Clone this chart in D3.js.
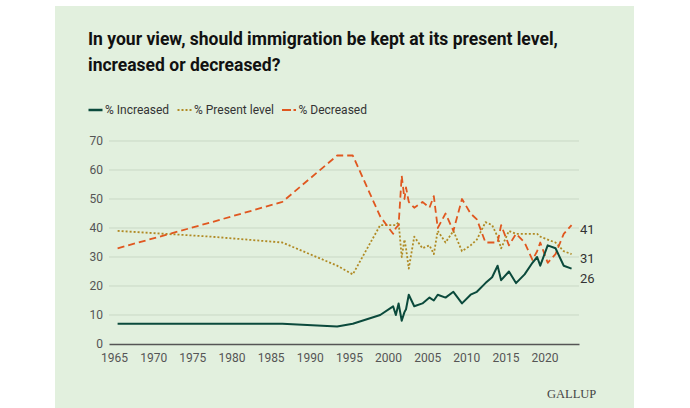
<!DOCTYPE html>
<html>
<head>
<meta charset="utf-8">
<script src="https://cdn.jsdelivr.net/npm/d3@7"></script>
<style>
  html, body { margin: 0; padding: 0; background: #ffffff; }
  svg { display: block; }
</style>
</head>
<body>
<svg id="chart" width="690" height="408"></svg>
<script>
// ---- Data ----
const dates = [1965.45, 1977.45, 1986.5, 1993.5, 1995.5, 1999.0, 2000.65, 2001.0, 2001.35, 2001.75,
  2002.1, 2002.3, 2002.65, 2003.35, 2004.4, 2005.3, 2005.85, 2006.35, 2007.35, 2008.35,
  2009.45, 2010.55, 2011.35, 2012.45, 2013.3, 2014.0, 2014.45, 2015.45, 2016.35, 2017.45,
  2018.45, 2019.05, 2019.45, 2020.4, 2021.4, 2022.45, 2023.45];
const increased = [7, 7, 7, 6, 7, 10, 13, 10, 14, 8,
  11, 12, 17, 13, 14, 16, 15, 17, 16, 18,
  14, 17, 18, 21, 23, 27, 22, 25, 21, 24,
  28, 30, 27, 34, 33, 27, 26];
const presentLevel = [39, 37, 35, 27, 24, 41, 41, 41, 42, 30,
  36, 33, 26, 37, 33, 34, 31, 39, 35, 39,
  32, 34, 36, 42, 41, 37, 33, 39, 38, 38,
  38, 38, 37, 36, 35, 32, 31];
const decreased = [33, 42, 49, 65, 65, 44, 38, 40, 41, 58,
  50, 54, 49, 47, 49, 47, 51, 40, 45, 39,
  50, 45, 43, 35, 35, 35, 41, 34, 38, 35,
  29, 32, 35, 28, 31, 38, 41];
const seriesNames = ["% Increased", "% Present level", "% Decreased"];
const xTicks = [1965, 1970, 1975, 1980, 1985, 1990, 1995, 2000, 2005, 2010, 2015, 2020];
const yTicks = [0, 10, 20, 30, 40, 50, 60, 70];
const titleLines = ["In your view, should immigration be kept at its present level,", "increased or decreased?"];

// ---- Styles ----
const colors = ["#0b4a3c", "#b08a24", "#e0571f"];
const dashes = [null, "2,2", "7,4"];
const svg = d3.select("#chart");
const W = 690, H = 408;

// Panel background
svg.append("rect").attr("x", 55).attr("y", 6).attr("width", 579).attr("height", H - 6).attr("fill", "#e2f0de");

// Title
svg.append("g").selectAll("text").data(titleLines).join("text")
  .attr("x", 88).attr("y", (d, i) => 45 + i * 25.5)
  .attr("font-family", "Roboto, 'Open Sans', sans-serif")
  .attr("font-weight", 700).attr("font-size", 17.5).attr("fill", "#111")
  .text(d => d);

// Scales
const x = d3.scaleLinear().domain([1964.35, 2024.4]).range([109, 579]);
const y = d3.scaleLinear().domain([0, 70]).range([344, 141]);

// Gridlines
svg.append("g").selectAll("line").data(yTicks.filter(t => t > 0)).join("line")
  .attr("x1", x.range()[0]).attr("x2", x.range()[1])
  .attr("y1", d => y(d)).attr("y2", d => y(d))
  .attr("stroke", "#c9d8c5").attr("stroke-width", 1);

// Y axis labels
const yAxis = d3.axisLeft(y).tickValues(yTicks).tickSize(0).tickPadding(6).tickFormat(d3.format("d"));
const gy = svg.append("g").attr("transform", `translate(${x.range()[0]},0)`).call(yAxis);
gy.select(".domain").remove();
gy.selectAll("text").attr("font-family", "Roboto, sans-serif").attr("font-size", 12).attr("fill", "#555");

// X axis
const xAxis = d3.axisBottom(x).tickValues(xTicks).tickSize(0).tickPadding(9).tickFormat(d3.format("d"));
const gx = svg.append("g").attr("transform", `translate(0,${y(0)})`).call(xAxis);
gx.select(".domain").attr("stroke", "#555").attr("stroke-width", 1.5);
gx.selectAll("text").attr("font-family", "Roboto, sans-serif").attr("font-size", 12).attr("fill", "#555");

// Lines
const allSeries = [increased, presentLevel, decreased];
const line = d3.line().x(d => x(d[0])).y(d => y(d[1])).curve(d3.curveLinear);
const order = [1, 2, 0];
order.forEach(k => {
  const pts = dates.map((dt, i) => [dt, allSeries[k][i]]);
  svg.append("path").datum(pts)
    .attr("d", line)
    .attr("fill", "none")
    .attr("stroke", colors[k])
    .attr("stroke-width", k === 0 ? 2 : 1.8)
    .attr("stroke-dasharray", dashes[k])
    .attr("stroke-linejoin", "round");
});

// End labels
const last = dates.length - 1;
const endLabels = allSeries.map((s, k) => ({ v: s[last], yy: y(s[last]) + 4 }))
  .sort((a, b) => a.yy - b.yy);
for (let i = 1; i < endLabels.length; i++) {
  if (endLabels[i].yy - endLabels[i - 1].yy < 20) endLabels[i].yy = endLabels[i - 1].yy + 20;
}
svg.append("g").selectAll("text").data(endLabels).join("text")
  .attr("x", 580).attr("y", d => d.yy).attr("dy", "0.35em")
  .attr("font-family", "Roboto, sans-serif").attr("font-size", 13).attr("fill", "#333")
  .text(d => d.v);

// Legend
const legendX = [88.5, 177.5, 282];
const legendY = 110;
const lg = svg.append("g");
seriesNames.forEach((name, k) => {
  lg.append("line").attr("x1", legendX[k]).attr("x2", legendX[k] + 14)
    .attr("y1", legendY).attr("y2", legendY)
    .attr("stroke", colors[k]).attr("stroke-width", k === 0 ? 2.5 : 2.2)
    .attr("stroke-dasharray", k === 2 ? "9,2.5" : dashes[k]);
  lg.append("text").attr("x", legendX[k] + 16.5).attr("y", legendY).attr("dy", "0.35em")
    .attr("font-family", "Roboto, sans-serif").attr("font-size", 12).attr("fill", "#333")
    .text(name);
});

// Source logo
svg.append("text").attr("x", 547).attr("y", 398)
  .attr("font-family", "'Liberation Serif', 'DejaVu Serif', serif").attr("font-size", 12.5)
  .attr("fill", "#444").text("GALLUP");
</script>
</body>
</html>
